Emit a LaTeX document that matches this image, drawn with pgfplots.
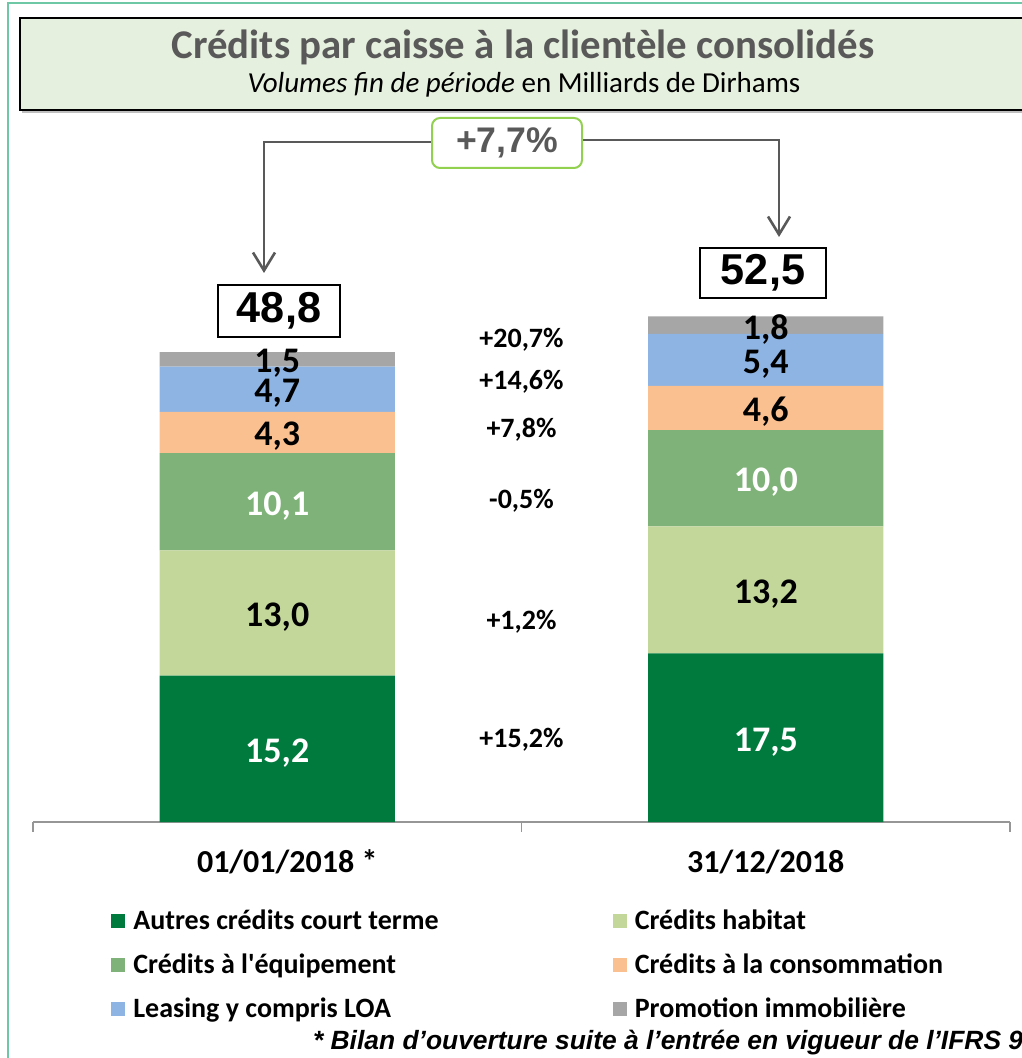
\documentclass[border=0pt]{standalone}
\usepackage{fontspec}
\usepackage{graphicx}
\usepackage{pgfplots}
\usepackage{pgfplotstable}
\pgfplotsset{compat=1.18}
\usetikzlibrary{arrows.meta}
\setmainfont{Carlito}[Ligatures=TeXOff]
\newfontfamily\arialfont{Liberation Sans}
\definecolor{framecol}{RGB}{110,200,165}
\definecolor{titlebg}{RGB}{230,240,222}
\definecolor{titlegrey}{RGB}{89,89,89}
\definecolor{arrowgrey}{RGB}{89,89,89}
\definecolor{boxgreen}{RGB}{146,208,80}
\definecolor{axisgrey}{RGB}{150,150,150}
\definecolor{cA}{RGB}{0,122,61}
\definecolor{cB}{RGB}{196,215,155}
\definecolor{cC}{RGB}{127,178,120}
\definecolor{cD}{RGB}{250,192,144}
\definecolor{cE}{RGB}{142,180,227}
\definecolor{cF}{RGB}{166,166,166}
\pgfplotstableread{
x A B C D E F
0 15.2 13.0 10.1 4.3 4.7 1.5
1 17.5 13.2 10.0 4.6 5.4 1.8
}\credits
\begin{document}
\begin{tikzpicture}[x=0.5pt,y=-0.5pt]
\path[use as bounding box] (0,0) rectangle (1021,1058);
\draw[framecol, line width=1pt] (7.5,1065) -- (7.5,3.5) -- (1030,3.5);
\draw[black!25, line width=1pt] (22,112.5) -- (1045,112.5);
\draw[black, line width=1.2pt, fill=titlebg] (1045,18) -- (20,18) -- (20,110) -- (1045,110);
\node[text=titlegrey, font=\bfseries\fontsize{20.4}{23}\selectfont] at (523,47) {Crédits par caisse à la clientèle consolidés};
\node[font=\fontsize{14.5}{16}\selectfont] at (524,85) {\textit{Volumes fin de période} en Milliards de Dirhams};

\begin{axis}[
  at={(16.5pt,-411pt)}, anchor=south west,
  width=488.5pt, height=356pt, scale only axis,
  xmin=-0.5, xmax=1.5, ymin=0, ymax=73.94,
  ybar stacked, bar width=0.482,
  hide y axis, axis x line*=bottom,
  x axis line style={draw=axisgrey, line width=0.75pt},
  xtick={0,1}, xticklabels={{\hspace*{10pt}01/01/2018 *}, 31/12/2018},
  minor xtick={-0.5,0.5,1.5},
  major tick length=0pt, minor tick length=5pt, tick align=outside,
  every minor tick/.style={draw=axisgrey, line width=0.75pt},
  xticklabel style={font=\bfseries\fontsize{16}{19}\selectfont, yshift=-10.5pt},
  point meta=explicit symbolic,
  nodes near coords={\pgfmathprintnumber[fixed,fixed zerofill,precision=1,use comma,assume math mode=true]{\pgfplotspointmeta}},
  every node near coord/.append style={anchor=center, yshift=-2pt, font=\bfseries\fontsize{18}{20}\selectfont, text=black},
  legend image code/.code={\fill[#1] (0pt,-3.5pt) rectangle (7pt,3.5pt);},
  legend style={at={(0.0798,-0.1166)}, anchor=north west, draw=none, fill=none, inner sep=0pt,
    font=\bfseries\fontsize{14}{16}\selectfont, row sep=6pt,
    nodes={inner sep=1pt, text height=11pt, text depth=3pt},
    /tikz/every odd column/.append style={column sep=3pt},
    /tikz/every even column/.append style={column sep=86pt}},
  legend columns=2, legend cell align=left,
]
\addplot[fill=cA, draw=none, nodes near coords style={text=white}] table[x=x,y=A,meta=A] {\credits};
\addplot[fill=cB, draw=none] table[x=x,y=B,meta=B] {\credits};
\addplot[fill=cC, draw=none, nodes near coords style={text=white}] table[x=x,y=C,meta=C] {\credits};
\addplot[fill=cD, draw=none] table[x=x,y=D,meta=D] {\credits};
\addplot[fill=cE, draw=none] table[x=x,y=E,meta=E] {\credits};
\addplot[fill=cF, draw=none] table[x=x,y=F,meta=F] {\credits};
\legend{Autres crédits court terme, Crédits habitat, Crédits à l'équipement, Crédits à la consommation, Leasing y compris LOA, Promotion immobilière}
\node[font=\bfseries\fontsize{14}{16}\selectfont] at (axis cs:0.5,50.05) {+20,7\%};
\node[font=\bfseries\fontsize{14}{16}\selectfont] at (axis cs:0.5,45.7) {+14,6\%};
\node[font=\bfseries\fontsize{14}{16}\selectfont] at (axis cs:0.5,40.7) {+7,8\%};
\node[font=\bfseries\fontsize{14}{16}\selectfont] at (axis cs:0.5,33.4) {-0,5\%};
\node[font=\bfseries\fontsize{14}{16}\selectfont] at (axis cs:0.5,20.8) {+1,2\%};
\node[font=\bfseries\fontsize{14}{16}\selectfont] at (axis cs:0.5,8.5) {+15,2\%};
\end{axis}

\draw[arrowgrey, line width=1.3pt, -{Straight Barb[length=9pt, width=11pt, line width=1.3pt]}] (440,142) -- (264,142) -- (264,273);
\draw[arrowgrey, line width=1.3pt, -{Straight Barb[length=9pt, width=11pt, line width=1.3pt]}] (575,140) -- (779,140) -- (779,237);
\node[draw=boxgreen, rounded corners=4pt, line width=1pt, fill=white, minimum width=75pt, minimum height=25pt, inner sep=0pt, text=titlegrey, font=\arialfont\bfseries\fontsize{17.8}{20}\selectfont] at (507,143) {+7,7\%};
\node[draw=black, line width=1pt, fill=white, minimum width=61pt, minimum height=26pt, inner sep=0pt, font=\arialfont\bfseries\fontsize{21.6}{24}\selectfont] at (279,311) {48,8};
\node[draw=black, line width=1pt, fill=white, minimum width=63pt, minimum height=25pt, inner sep=0pt, font=\arialfont\bfseries\fontsize{21.6}{24}\selectfont] at (763,273) {52,5};
\node[anchor=west, font=\arialfont\bfseries\itshape\fontsize{13.2}{15}\selectfont] at (306,1043) {* Bilan d’ouverture suite à l’entrée en vigueur de l’IFRS 9};
\end{tikzpicture}
\end{document}
